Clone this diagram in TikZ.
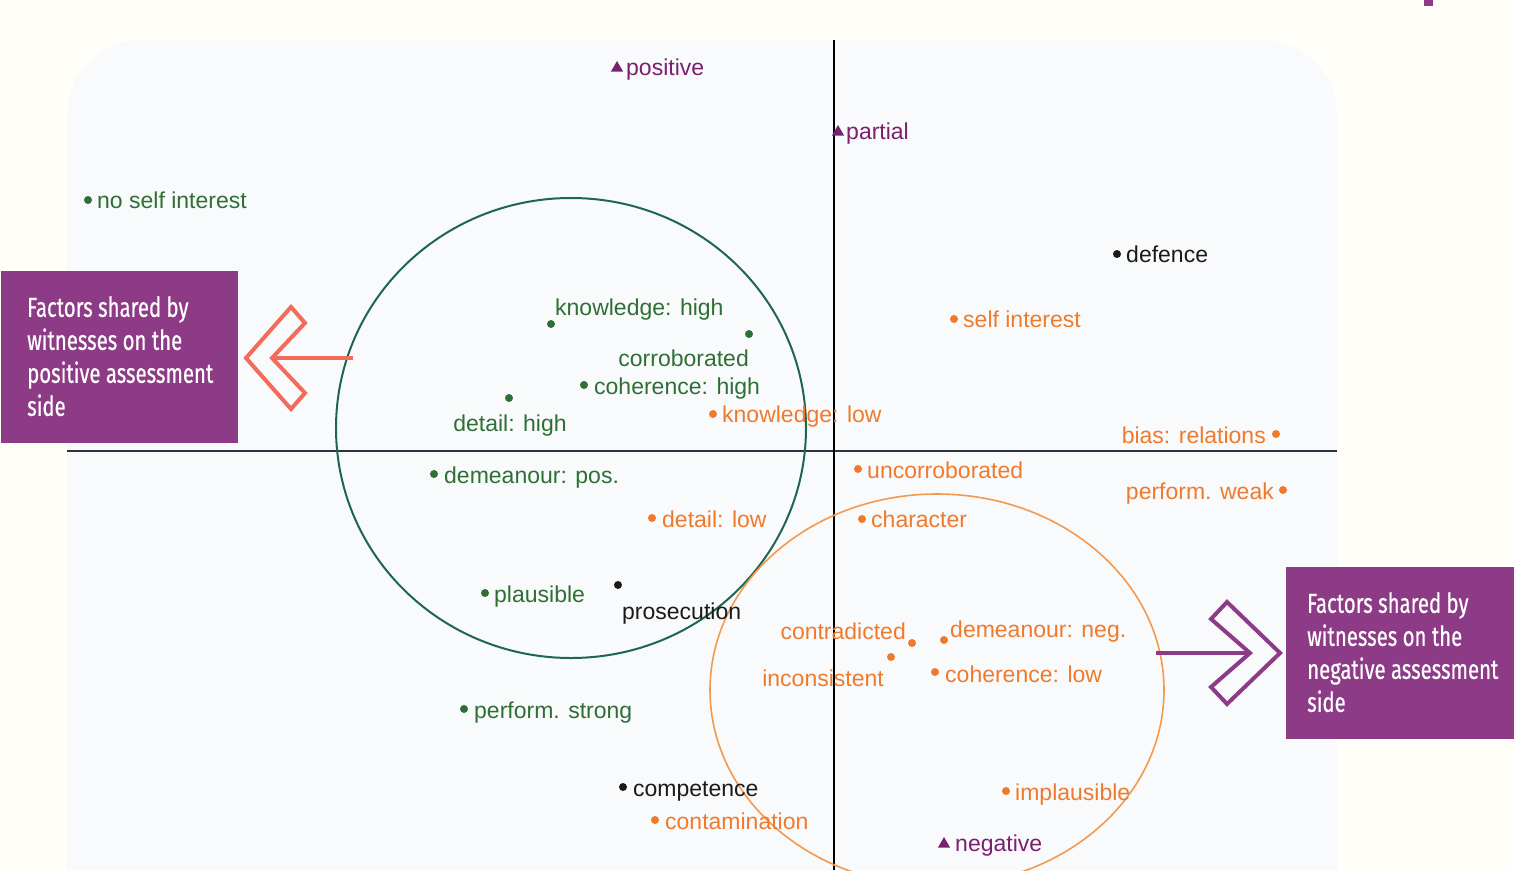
\documentclass[tikz,border=0pt]{standalone}
\usepackage{fontspec}
\setmainfont{Liberation Sans}
\newfontfamily\boxfont[FakeStretch=0.74,FakeBold=0.5]{Fira Sans}
\usetikzlibrary{shapes.geometric}
\definecolor{pagebg}{HTML}{FFFEF9}
\definecolor{panelbg}{HTML}{F9FAFC}
\definecolor{boxpurple}{HTML}{8D3B86}
\definecolor{coral}{HTML}{F26B5B}
\definecolor{ptgreen}{HTML}{2F6F35}
\definecolor{circgreen}{HTML}{1F6650}
\definecolor{ptorange}{HTML}{F07A2C}
\definecolor{circorange}{HTML}{F39A4E}
\definecolor{ptpurple}{HTML}{7A2070}
\definecolor{ptblack}{HTML}{1A1A1A}
\definecolor{axiscol}{HTML}{2B3340}
\tikzset{
  lab/.style={font=\fontsize{23}{27}\selectfont, inner sep=0pt},
  glab/.style={lab, text=ptgreen},
  olab/.style={lab, text=ptorange},
  klab/.style={lab, text=ptblack},
  plab/.style={lab, text=ptpurple},
  dotbase/.style={circle, inner sep=0pt, minimum size=8pt},
  gdot/.style={dotbase, fill=ptgreen},
  odot/.style={dotbase, fill=ptorange},
  kdot/.style={dotbase, fill=ptblack},
  ptri/.style={regular polygon, regular polygon sides=3, fill=ptpurple, inner sep=0pt, minimum size=14pt},
  sidebox/.style={fill=boxpurple, inner sep=0pt, anchor=north west},
  boxtxt/.style={font=\boxfont\fontsize{27.5}{33}\selectfont, text=white, align=left, inner sep=0pt, anchor=north west},
  coralline/.style={draw=coral, line width=4pt},
  purpline/.style={draw=boxpurple, line width=4pt},
}
\begin{document}
\begin{tikzpicture}[x=1pt,y=-1pt]
\useasboundingbox (0,0) rectangle (1514,870);
\fill[pagebg] (0,0) rectangle (1514,870);
\fill[panelbg, rounded corners=75pt] (67,40) rectangle (1337,960);
\fill[boxpurple] (1424,0) rectangle (1433,6);
% axes
\draw[axiscol, line width=2.4pt] (67,451) -- (1337,451);
\draw[black, line width=1.3pt] (834,40) -- (834,870);
% circles
\draw[circgreen, line width=2pt] (571,428) ellipse [x radius=235, y radius=230];
\draw[circorange, line width=1.6pt] (937,690) ellipse [x radius=227, y radius=196];
% points
\node[ptri] (tpos) at (617,68) {};
\node[plab, anchor=mid west] (lpos) at (626,73) {positive};
\node[ptri] (tpar) at (838,132) {};
\node[plab, anchor=mid west] (lpar) at (846,137) {partial};
\node[gdot] (dnsi) at (88,200) {};
\node[glab, anchor=mid west] (lnsi) at (97,206) {no self interest};
\node[kdot] (ddef) at (1117,254) {};
\node[klab, anchor=mid west] (ldef) at (1126,260) {defence};
\node[odot] (dsi) at (954,319) {};
\node[olab, anchor=mid west] (lsi) at (963,325) {self interest};
\node[gdot] (dkh) at (551,324) {};
\node[glab, anchor=mid west] (lkh) at (555,313) {knowledge: high};
\node[gdot] (dcor) at (749,334) {};
\node[glab, anchor=mid east] (lcor) at (749,364) {corroborated};
\node[gdot] (dch) at (584,385) {};
\node[glab, anchor=mid west] (lch) at (594,392) {coherence: high};
\node[gdot] (ddh) at (509,398) {};
\node[glab, anchor=mid] (ldh) at (510,429) {detail: high};
\node[odot] (dkl) at (713,414) {};
\node[olab, anchor=mid west] (lkl) at (722,420) {knowledge: low};
\node[odot] (dbr) at (1276,434) {};
\node[olab, anchor=mid east] (lbr) at (1266,441) {bias: relations};
\node[gdot] (ddp) at (434,474) {};
\node[glab, anchor=mid west] (ldp) at (444,481) {demeanour: pos.};
\node[odot] (duc) at (858,469) {};
\node[olab, anchor=mid west] (luc) at (867,476) {uncorroborated};
\node[odot] (dpw) at (1283,490) {};
\node[olab, anchor=mid east] (lpw) at (1274,497) {perform. weak};
\node[odot] (ddl) at (652,518) {};
\node[olab, anchor=mid west] (ldl) at (662,525) {detail: low};
\node[odot] (dchar) at (862,519) {};
\node[olab, anchor=mid west] (lchar) at (871,525) {character};
\node[gdot] (dpl) at (485,593) {};
\node[glab, anchor=mid west] (lpl) at (494,600) {plausible};
\node[kdot] (dpros) at (618,585) {};
\node[klab, anchor=mid west] (lpros) at (622,617) {prosecution};
\node[odot] (dcon) at (912,643) {};
\node[olab, anchor=mid east] (lcon) at (906,637) {contradicted};
\node[odot] (dinc) at (891,657) {};
\node[olab, anchor=mid east] (linc) at (884,684) {inconsistent};
\node[odot] (ddn) at (944,640) {};
\node[olab, anchor=mid west] (ldn) at (950,635) {demeanour: neg.};
\node[odot] (dcl) at (935,672) {};
\node[olab, anchor=mid west] (lcl) at (945,680) {coherence: low};
\node[gdot] (dps) at (464,709) {};
\node[glab, anchor=mid west] (lps) at (474,716) {perform. strong};
\node[kdot] (dcomp) at (623,787) {};
\node[klab, anchor=mid west] (lcomp) at (633,794) {competence};
\node[odot] (dcont) at (655,820) {};
\node[olab, anchor=mid west] (lcont) at (665,827) {contamination};
\node[odot] (dimp) at (1006,791) {};
\node[olab, anchor=mid west] (limp) at (1015,798) {implausible};
\node[ptri] (tneg) at (944,844) {};
\node[plab, anchor=mid west] (lneg) at (955,849) {negative};
% side boxes
\node[sidebox, minimum width=237pt, minimum height=172pt] (lbox) at (1,271) {};
\node[boxtxt] (lboxt) at (27,296) {Factors shared by\\witnesses on the\\positive assessment\\side};
\node[sidebox, minimum width=228pt, minimum height=172pt] (rbox) at (1286,567) {};
\node[boxtxt] (rboxt) at (1307,592) {Factors shared by\\witnesses on the\\negative assessment\\side};
% arrows
\coordinate (la0) at (353,358);
\coordinate (la1) at (272,358);
\draw[coralline] (la0) -- (la1);
\draw[coralline, line join=miter] (246,358) -- (291,307) -- (305,323) -- (la1) -- (305,393) -- (291,409) -- cycle;
\coordinate (ra0) at (1156,653);
\coordinate (ra1) at (1250,653);
\draw[purpline] (ra0) -- (ra1);
\draw[purpline, line join=miter] (1280,653) -- (1227,602) -- (1211,619) -- (ra1) -- (1211,687) -- (1227,704) -- cycle;
\end{tikzpicture}
\end{document}
